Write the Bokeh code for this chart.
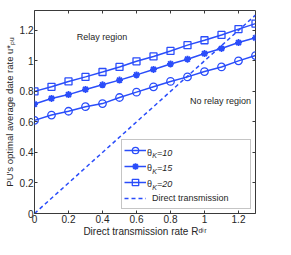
import math
from bokeh.plotting import figure
from bokeh.models import (Range1d, FixedTicker, LinearAxis, Legend, LegendItem, Label)
from bokeh.embed import file_html
from bokeh.resources import INLINE

# ---- data ----
rate_dir = [0.0, 0.1, 0.2, 0.3, 0.4, 0.5, 0.6, 0.7, 0.8, 0.9, 1.0, 1.1, 1.2, 1.3]
theta10 = [0.61, 0.645, 0.67, 0.70, 0.72, 0.76, 0.795, 0.83, 0.865, 0.895, 0.93, 0.96, 1.0, 1.035]
theta15 = [0.717, 0.754, 0.779, 0.813, 0.843, 0.874, 0.908, 0.944, 0.98, 1.011, 1.048, 1.081, 1.12, 1.151]
theta20 = [0.80, 0.83, 0.865, 0.895, 0.927, 0.96, 0.997, 1.029, 1.065, 1.103, 1.135, 1.17, 1.208, 1.244]
direct_x = [0.0, 1.3]
direct_y = [0.0, 1.3]
x_ticks = [0, 0.2, 0.4, 0.6, 0.8, 1, 1.2]
x_tick_labels = ["0", "0.2", "0.4", "0.6", "0.8", "1", "1.2"]
y_ticks = [0, 0.2, 0.4, 0.6, 0.8, 1, 1.2]
y_tick_labels = ["0", "0.2", "0.4", "0.6", "0.8", "1", "1.2"]
series_names = ["10", "15", "20"]

BLUE = "#2a4dfa"
TXT = "#262626"
FONT = "Liberation Sans"
W, H = 275, 239
BL, BR, BT, BB = 29, 20, 10, 22
X_END, Y_END = 1.3, 1.33

p = figure(width=W, height=H, output_backend="svg", toolbar_location=None,
           x_range=Range1d(0, X_END), y_range=Range1d(0, Y_END),
           min_border_left=BL, min_border_right=BR, min_border_top=BT, min_border_bottom=BB)
p.background_fill_color = "white"
p.border_fill_color = "white"
p.outline_line_color = "#3a3a3a"
p.outline_line_width = 1
p.xgrid.visible = False
p.ygrid.visible = False

def style_axis(ax, ticks, labels, show_labels=True):
    ax.ticker = FixedTicker(ticks=ticks)
    ax.major_label_overrides = {t: l for t, l in zip(ticks, labels)}
    ax.major_tick_in = 3
    ax.major_tick_out = 0
    ax.minor_tick_line_color = None
    ax.axis_line_color = None
    ax.major_tick_line_color = "#3a3a3a"
    ax.major_label_standoff = 1
    ax.major_label_text_font = FONT
    ax.major_label_text_font_size = "10px" if show_labels else "1px"
    ax.major_label_text_color = TXT if show_labels else None
    ax.axis_label_text_font = FONT
    ax.axis_label_text_font_size = "10px"
    ax.axis_label_text_font_style = "normal"
    ax.axis_label_text_color = TXT

style_axis(p.xaxis[0], x_ticks, x_tick_labels)
style_axis(p.yaxis[0], y_ticks, y_tick_labels)
p.xaxis[0].axis_label = "Direct transmission rate Rᵈⁱʳ"
p.xaxis[0].axis_label_standoff = 0
p.yaxis[0].axis_label = "PU's optimal average date rate u*ₚᵤ"
p.yaxis[0].axis_label_text_font_size = "9.5px"
p.yaxis[0].axis_label_standoff = 2

top_ax = LinearAxis()
right_ax = LinearAxis()
style_axis(top_ax, x_ticks, x_tick_labels, show_labels=False)
style_axis(right_ax, y_ticks, y_tick_labels, show_labels=False)
p.add_layout(top_ax, "above")
p.add_layout(right_ax, "right")

# ---- series ----
l1 = p.line(rate_dir, theta10, line_color=BLUE, line_width=1.5)
m1 = p.scatter(rate_dir, theta10, marker="circle", size=7.5, line_color=BLUE,
               fill_color=None, line_width=1.3)
l2 = p.line(rate_dir, theta15, line_color=BLUE, line_width=1.5)
m2 = p.scatter(rate_dir, theta15, marker="asterisk", size=7, line_color=BLUE,
               fill_color=BLUE, line_width=1.8)
l3 = p.line(rate_dir, theta20, line_color=BLUE, line_width=1.5)
m3 = p.scatter(rate_dir, theta20, marker="square", size=7, line_color=BLUE,
               fill_color=None, line_width=1.3)
ld = p.line(direct_x, direct_y, line_color=BLUE, line_width=1.5, line_dash="4 3")

# ---- legend ----
PAD, GW, STAND, LW, LH, MARGIN = 2, 22, 6, 105, 16, 4
LW_EXTRA = 9  # extra width Bokeh adds around the label area
legend = Legend(items=[
    LegendItem(label=" ", renderers=[l1, m1]),
    LegendItem(label=" ", renderers=[l2, m2]),
    LegendItem(label=" ", renderers=[l3, m3]),
    LegendItem(label="Direct transmission", renderers=[ld]),
], location="bottom_right", margin=MARGIN, padding=PAD, spacing=0,
   glyph_width=GW, glyph_height=LH, label_height=LH, label_width=LW - LW_EXTRA,
   label_standoff=STAND, label_text_font=FONT, label_text_font_size="9px",
   label_text_color=TXT, border_line_color="#8c8c8c", border_line_width=1,
   background_fill_color="white", background_fill_alpha=0.0)
p.add_layout(legend, "center")

# legend theta labels, placed in data units from the legend geometry
FW = W - BL - BR
FH = H - BT - BB
sx_per = FW / X_END
sy_per = FH / Y_END
leg_w = 2 * PAD + GW + STAND + LW
leg_h = 2 * PAD + 4 * LH
tx_px = FW - MARGIN - leg_w + PAD + GW + STAND
for i, name in enumerate(series_names):
    ry_px = MARGIN + leg_h - PAD - LH * i - LH / 2
    tx = tx_px / sx_per
    ry = ry_px / sy_per
    common = dict(text_font=FONT, text_color=TXT, text_baseline="middle")
    p.add_layout(Label(x=tx, y=ry, text="θ", text_font_size="9px", **common))
    p.add_layout(Label(x=tx, y=ry, x_offset=5.2, y_offset=-3, text="K", text_font_size="7px",
                       text_font_style="italic", **common))
    p.add_layout(Label(x=tx, y=ry, x_offset=10, text="=" + name, text_font_size="9px",
                       text_font_style="italic", **common))

# region annotations
p.add_layout(Label(x=0.248, y=1.155, text="Relay region", text_font=FONT,
                   text_font_size="9px", text_color=TXT, text_baseline="middle"))
p.add_layout(Label(x=0.915, y=0.737, text="No relay region", text_font=FONT,
                   text_font_size="9px", text_color=TXT, text_baseline="middle"))

open("out.html", "w").write(file_html(p, INLINE))
